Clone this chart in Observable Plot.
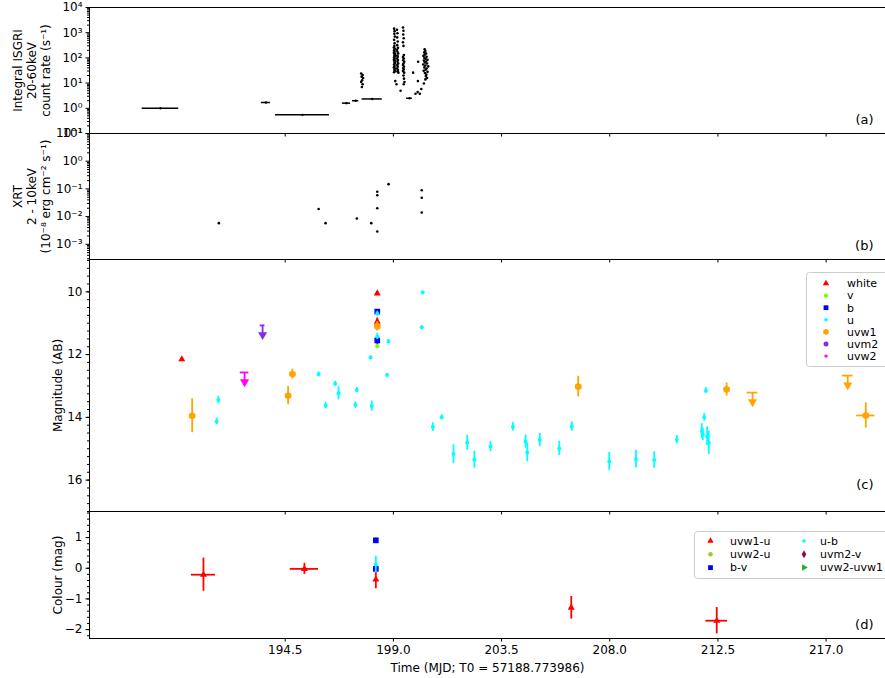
<!DOCTYPE html>
<html><head><meta charset="utf-8">
<script src="https://cdn.jsdelivr.net/npm/d3@7"></script>
<script src="https://cdn.jsdelivr.net/npm/@observablehq/plot@0.6"></script>
<style>
body{margin:0;background:#fff;}
#chart{position:relative;width:885px;font-family:"DejaVu Sans",sans-serif;}
#chart svg{display:block;overflow:visible;background:transparent;}
</style></head><body><div id="chart"></div>
<script>
// ---------------- shared x axis ----------------
const xDomain = [186.36, 219.47];
const xTicks = [194.5, 199.0, 203.5, 208.0, 212.5, 217.0];
const xTitle = "Time (MJD; T0 = 57188.773986)";

// ---------------- panel (a): INTEGRAL ISGRI ----------------
const isgriBarT    = [189.31, 193.70, 195.22, 197.05, 197.43, 198.12, 199.67];
const isgriBarHalf = [0.76, 0.19, 1.12, 0.17, 0.13, 0.42, 0.12];
const isgriBarRate = [1.0, 1.7, 0.55, 1.6, 2.0, 2.35, 2.5];
const isgriT = [
  197.66,197.72,197.68,197.74,197.70,197.66,197.72,197.69,
  199.03,199.05,199.04,199.06,199.03,199.05,199.04,199.02,199.06,199.03,199.05,199.02,199.07,199.04,199.06,199.03,199.05,199.02,199.07,199.04,199.06,199.03,199.05,199.02,199.07,199.04,199.06,199.03,199.08,199.13,
  199.15,199.17,199.16,199.18,199.16,199.19,199.15,199.17,199.20,199.16,199.18,199.15,199.19,199.17,199.20,199.16,199.18,199.15,199.19,199.17,199.21,199.30,
  199.40,199.42,199.41,199.43,199.40,199.42,199.44,199.40,199.43,199.41,199.45,199.42,199.40,199.44,199.41,199.43,199.40,199.45,199.42,199.44,199.46,199.43,
  199.82,199.92,200.01,200.10,200.02,200.03,200.27,200.16,
  200.30,200.33,200.28,200.36,200.31,200.25,200.38,200.29,200.34,200.42,200.27,200.36,200.31,200.40,200.24,200.33,200.45,200.29,200.38,200.34,200.26,200.42,200.31,200.37,200.35,200.40,200.33
];
const isgriRate = [
  24,21,18,16,13,11,9,7,
  1450,1150,900,700,520,380,300,260,230,200,180,160,145,130,118,105,95,85,78,70,62,55,48,42,38,34,30,27,12,9,
  1300,950,650,450,320,250,210,175,150,125,110,95,82,70,60,52,45,38,33,29,26,5,
  1600,1200,850,600,420,300,130,110,95,80,70,60,52,45,40,35,30,26,20,15,11,9,
  26,3.8,4.4,3.8,12,70,9.7,5.8,
  220,190,165,150,135,120,110,100,92,85,78,72,66,60,55,50,46,42,38,34,31,28,25,22,19,16,14
];

// ---------------- panel (b): Swift XRT ----------------
const xrtT    = [191.74, 195.89, 196.18, 197.48, 198.08, 198.33, 198.33, 198.33, 198.33, 198.80, 200.18, 200.18, 200.18];
const xrtFlux = [0.0058, 0.0187, 0.0058, 0.0085, 0.0058, 0.079, 0.059, 0.020, 0.0029, 0.148, 0.089, 0.048, 0.014];

// ---------------- panel (c): UVOT magnitudes ----------------
const whiteT = [190.20, 198.33, 198.33], whiteMag = [12.15, 10.05, 10.95], whiteErr = [0.04, 0.06, 0.12];
const vT = [198.33], vMag = [11.73], vErr = [0.05];
const bT = [198.33, 198.33], bMag = [10.63, 11.55], bErr = [0.06, 0.12];
const uT = [191.65,191.72,195.89,196.18,196.58,196.72,197.42,197.48,198.05,198.10,198.33,198.33,198.74,198.80,200.18,200.22,200.64,201.01,201.50,202.07,202.37,203.04,203.97,204.50,204.57,205.09,205.90,206.42,207.98,209.09,209.85,210.79,211.83,211.87,211.93,212.00,212.05,212.12];
const uMag = [14.13,13.45,12.63,13.62,12.93,13.23,13.61,13.13,12.09,13.64,10.70,11.42,12.65,11.58,11.13,10.02,14.31,14.00,15.17,14.81,15.35,14.93,14.30,14.77,15.12,14.72,14.99,14.29,15.41,15.33,15.36,14.71,14.44,14.54,14.00,13.15,14.60,14.81];
const uErr = [0.10,0.12,0.08,0.10,0.08,0.21,0.10,0.08,0.05,0.16,0.08,0.10,0.05,0.06,0.04,0.04,0.14,0.08,0.30,0.24,0.27,0.16,0.14,0.21,0.30,0.21,0.23,0.15,0.29,0.28,0.26,0.13,0.24,0.20,0.12,0.09,0.30,0.37];
const uvw1T = [190.63, 194.62, 194.80, 198.33, 206.69, 212.86, 218.65];
const uvw1Mag = [13.95, 13.31, 12.62, 11.10, 13.02, 13.11, 13.94];
const uvw1Err = [0.54, 0.29, 0.16, 0.15, 0.33, 0.21, 0.40];
const uvw1XErr = [0, 0, 0, 0, 0, 0, 0.38];
const uvw1LimT = [213.94, 217.90], uvw1LimMag = [13.21, 12.67];
const uvm2LimT = [193.56], uvm2LimMag = [11.07];
const uvw2LimT = [192.81], uvw2LimMag = [12.57];

// ---------------- panel (d): colours ----------------
const c_uvw1u_T = [191.10, 195.30, 198.27, 206.40, 212.45];
const c_uvw1u_V = [-0.21, -0.02, -0.37, -1.29, -1.71];
const c_uvw1u_E = [0.54, 0.18, 0.30, 0.37, 0.43];
const c_uvw1u_X = [0.50, 0.59, 0.0, 0.08, 0.45];
const c_bv_T = [198.27, 198.27], c_bv_V = [0.91, -0.02], c_bv_E = [0.07, 0.12];
const c_ub_T = [198.27], c_ub_V = [0.12], c_ub_E = [0.27];

// ---------------- helpers ----------------
const FONT = "DejaVu Sans, sans-serif";
const W = 885, ML = 89, MR = 0;
const supMap = {"-":"⁻","0":"⁰","1":"¹","2":"²","3":"³","4":"⁴","5":"⁵","6":"⁶","7":"⁷","8":"⁸","9":"⁹"};
const sup = v => "10" + String(Math.round(Math.log10(v))).split("").map(c => supMap[c]).join("");
function logMinor(lo, hi) {
  const out = [];
  for (let e = Math.floor(Math.log10(lo)); e <= Math.ceil(Math.log10(hi)); e++)
    for (let k = 2; k <= 9; k++) { const v = k * Math.pow(10, e); if (v >= lo && v <= hi) out.push(v); }
  return out;
}
function linMinor(lo, hi, step) {
  const out = []; const n0 = Math.ceil(lo / step - 1e-9), n1 = Math.floor(hi / step + 1e-9);
  for (let n = n0; n <= n1; n++) out.push(+(n * step).toFixed(6));
  return out;
}
const style = {fontFamily: FONT, fontSize: "12px", color: "black", overflow: "visible", background: "transparent"};
const rows = (T, V, E, X) => T.map((t, i) => ({t, v: V[i], e: E ? E[i] : 0, xe: X ? X[i] : 0}));
const hiddenX = () => Plot.axisX({ticks: xTicks, tickSize: 3.5, tickFormat: () => "", label: null});
const yTitle = (txt, dx) => Plot.text([txt], {frameAnchor: "left", dx, rotate: -90, textAnchor: "middle", lineAnchor: "middle", lineHeight: 1.17, fontSize: 12});
const tag = (txt, h) => Plot.text([txt], {frameAnchor: "bottom-right", dx: -12, dy: -0.105 * h, textAnchor: "end", lineAnchor: "middle", fontSize: 13});
function series(data, color, symbol, r, opts = {}) {
  return [
    Plot.ruleX(data.filter(d => d.e > 0), {x: "t", y1: d => d.v - d.e, y2: d => d.v + d.e, stroke: color, strokeWidth: 1.8}),
    Plot.ruleY(data.filter(d => d.xe > 0), {y: "v", x1: d => d.t - d.xe, x2: d => d.t + d.xe, stroke: color, strokeWidth: 1.8}),
    Plot.dot(data, {x: "t", y: "v", symbol, r, fill: color, stroke: null, rotate: opts.rotate || 0})
  ];
}
function limits(T, M, color, capHalf) {
  const data = T.map((t, i) => ({t, v: M[i]}));
  return [
    Plot.ruleY(data, {y: "v", x1: d => d.t - capHalf, x2: d => d.t + capHalf, stroke: color, strokeWidth: 1.8}),
    Plot.ruleX(data, {x: "t", y1: "v", y2: d => d.v + 0.3, stroke: color, strokeWidth: 1.8}),
    Plot.dot(data, {x: "t", y: d => d.v + 0.3, symbol: "triangle", rotate: 180, r: 3.4, fill: color, stroke: null})
  ];
}

const C = {white: "#ff0000", v: "#7cfc00", b: "#0000ff", u: "#00ffff", uvw1: "#ffa500", uvm2: "#8a2be2", uvw2: "#ff00ff",
           uvw2u: "#9acd32", uvm2v: "#8b0a50", uvw2uvw1: "#22aa22"};

const chart = document.getElementById("chart");

// ---------------- (a) ----------------
const hA = 133;
const A = Plot.plot({
  width: W, height: hA, marginLeft: ML, marginRight: MR, marginTop: 7, marginBottom: 0, style,
  x: {domain: xDomain},
  y: {type: "log", domain: [0.1, 1e4]},
  marks: [
    Plot.axisY({ticks: logMinor(0.1, 1e4), tickSize: 2, tickFormat: () => "", label: null}),
    Plot.axisY({ticks: [0.1, 1, 10, 100, 1000, 10000], tickSize: 3.5, tickPadding: 3.5, tickFormat: sup, label: null}),
    hiddenX(),
    Plot.ruleY(isgriBarT.map((t, i) => ({t, h: isgriBarHalf[i], v: isgriBarRate[i]})), {y: "v", x1: d => d.t - d.h, x2: d => d.t + d.h, stroke: "black", strokeWidth: 1.5}),
    Plot.dot(isgriBarT.map((t, i) => ({t, v: isgriBarRate[i]})), {x: "t", y: "v", r: 1.2, fill: "black", stroke: null}),
    Plot.dot(isgriT.map((t, i) => ({t, v: isgriRate[i]})), {x: "t", y: "v", r: 1.3, fill: "black", stroke: null}),
    Plot.frame({stroke: "black"}),
    tag("(a)", 126),
    yTitle("Integral ISGRI\n20-60keV\ncount rate (s⁻¹)", -58)
  ]
});
chart.appendChild(A);

// ---------------- (b) ----------------
const hB = 126;
const B = Plot.plot({
  width: W, height: hB, marginLeft: ML, marginRight: MR, marginTop: 0, marginBottom: 0, style,
  x: {domain: xDomain},
  y: {type: "log", domain: [Math.pow(10, -3.55), 10]},
  marks: [
    Plot.axisY({ticks: logMinor(Math.pow(10, -3.55), 10), tickSize: 2, tickFormat: () => "", label: null}),
    Plot.axisY({ticks: [1e-3, 1e-2, 1e-1, 1, 10], tickSize: 3.5, tickPadding: 3.5, tickFormat: sup, label: null}),
    hiddenX(),
    Plot.dot(xrtT.map((t, i) => ({t, v: xrtFlux[i]})), {x: "t", y: "v", r: 1.3, fill: "black", stroke: null}),
    Plot.frame({stroke: "black"}),
    tag("(b)", hB),
    yTitle("XRT\n2 - 10keV\n(10⁻⁸ erg cm⁻² s⁻¹)", -58)
  ]
});
chart.appendChild(B);

// ---------------- (c) ----------------
const hC = 252;
const Cp = Plot.plot({
  width: W, height: hC, marginLeft: ML, marginRight: MR, marginTop: 0, marginBottom: 0, style,
  x: {domain: xDomain},
  y: {domain: [17.0, 8.97]},
  marks: [
    Plot.axisY({ticks: linMinor(9, 17, 0.25), tickSize: 2, tickFormat: () => "", label: null}),
    Plot.axisY({ticks: [10, 12, 14, 16], tickSize: 3.5, tickPadding: 3.5, tickFormat: d => String(d), label: null}),
    hiddenX(),
    ...series(rows(whiteT, whiteMag, whiteErr), C.white, "triangle", 2.6),
    ...series(rows(vT, vMag, vErr), C.v, "circle", 2.2),
    ...series(rows(bT, bMag, bErr), C.b, "square", 3.2),
    ...series(rows(uT, uMag, uErr), C.u, "circle", 2.0),
    ...series(rows(uvw1T, uvw1Mag, uvw1Err, uvw1XErr), C.uvw1, "hexagon", 3.3),
    ...limits(uvw1LimT, uvw1LimMag, C.uvw1, 0.22),
    ...limits(uvm2LimT, uvm2LimMag, C.uvm2, 0.1),
    ...limits(uvw2LimT, uvw2LimMag, C.uvw2, 0.18),
    Plot.frame({stroke: "black"}),
    tag("(c)", hC),
    yTitle("Magnitude (AB)", -32)
  ]
});
chart.appendChild(Cp);

// ---------------- (d) ----------------
const hD = 167;
const D = Plot.plot({
  width: W, height: hD, marginLeft: ML, marginRight: MR, marginTop: 0, marginBottom: 40, style,
  x: {domain: xDomain},
  y: {domain: [-2.29, 1.85]},
  marks: [
    Plot.axisY({ticks: linMinor(-2.2, 1.8, 0.2), tickSize: 2, tickFormat: () => "", label: null}),
    Plot.axisY({ticks: [-2, -1, 0, 1], tickSize: 3.5, tickPadding: 3.5, tickFormat: d => d < 0 ? "−" + Math.abs(d) : String(d), label: null}),
    Plot.axisX({ticks: xTicks, tickSize: 3.5, tickPadding: 3.5, tickFormat: d => d.toFixed(1), label: null}),
    ...series(rows(c_uvw1u_T, c_uvw1u_V, c_uvw1u_E, c_uvw1u_X), C.white, "triangle", 2.6),
    ...series(rows(c_bv_T, c_bv_V, c_bv_E), C.b, "square", 3.2),
    ...series(rows(c_ub_T, c_ub_V, c_ub_E), C.u, "circle", 2.0),
    Plot.frame({stroke: "black"}),
    tag("(d)", 127),
    yTitle("Colour (mag)", -32),
    Plot.text([xTitle], {frameAnchor: "bottom", dy: 30, lineAnchor: "middle", fontSize: 12})
  ]
});
chart.appendChild(D);

// ---------------- legends ----------------
function symPath(type, r) {
  const m = {triangle: d3.symbolTriangle, circle: d3.symbolCircle, square: d3.symbolSquare, diamond: d3.symbolDiamond};
  if (type === "hexagon") {
    const p = d3.path();
    for (let i = 0; i < 6; i++) { const a = Math.PI / 3 * i + Math.PI / 6; const x = r * 1.1 * Math.cos(a), y = r * 1.1 * Math.sin(a); i ? p.lineTo(x, y) : p.moveTo(x, y); }
    p.closePath(); return p.toString();
  }
  return d3.symbol(m[type], Math.PI * r * r)();
}
function legend(svgEl, box, items) {
  const g = d3.select(svgEl).append("g").attr("font-family", FONT).attr("font-size", 11).attr("text-anchor", "start");
  g.append("rect").attr("x", box.x).attr("y", box.y).attr("width", box.w).attr("height", box.h)
    .attr("rx", 3).attr("fill", "white").attr("fill-opacity", 0.85).attr("stroke", "#cccccc");
  for (const it of items) {
    g.append("path").attr("d", symPath(it.sym, it.r)).attr("fill", it.color)
      .attr("transform", `translate(${it.mx},${it.y}) rotate(${it.rot || 0})`);
    g.append("text").attr("x", it.tx).attr("y", it.y).attr("dy", "0.35em").attr("text-anchor", "start").attr("fill", "black").text(it.label);
  }
}
const legC = [
  ["white", C.white, "triangle", 2.4], ["v", C.v, "circle", 2.2], ["b", C.b, "square", 2.7], ["u", C.u, "circle", 1.8],
  ["uvw1", C.uvw1, "hexagon", 2.9], ["uvm2", C.uvm2, "circle", 2.5], ["uvw2", C.uvw2, "circle", 1.7]
].map(([label, color, sym, r], i) => ({label, color, sym, r, mx: 826, tx: 847, y: 24.5 + 12.1 * i}));
legend(Cp, {x: 806.5, y: 13.5, w: 90, h: 94}, legC);

const legD = [
  ["uvw1-u", C.white, "triangle", 2.4, 0, 0, 0], ["uvw2-u", C.uvw2u, "hexagon", 2.3, 0, 0, 1], ["b-v", C.b, "square", 2.7, 0, 0, 2],
  ["u-b", C.u, "circle", 1.8, 0, 1, 0], ["uvm2-v", C.uvm2v, "diamond", 2.4, 0, 1, 1], ["uvw2-uvw1", C.uvw2uvw1, "triangle", 2.4, 90, 1, 2]
].map(([label, color, sym, r, rot, col, row]) => ({label, color, sym, r, rot, mx: col ? 804 : 710.5, tx: col ? 820 : 730, y: 30 + 13.3 * row}));
legend(D, {x: 694.5, y: 20.5, w: 200, h: 47}, legD);
</script></body></html>
